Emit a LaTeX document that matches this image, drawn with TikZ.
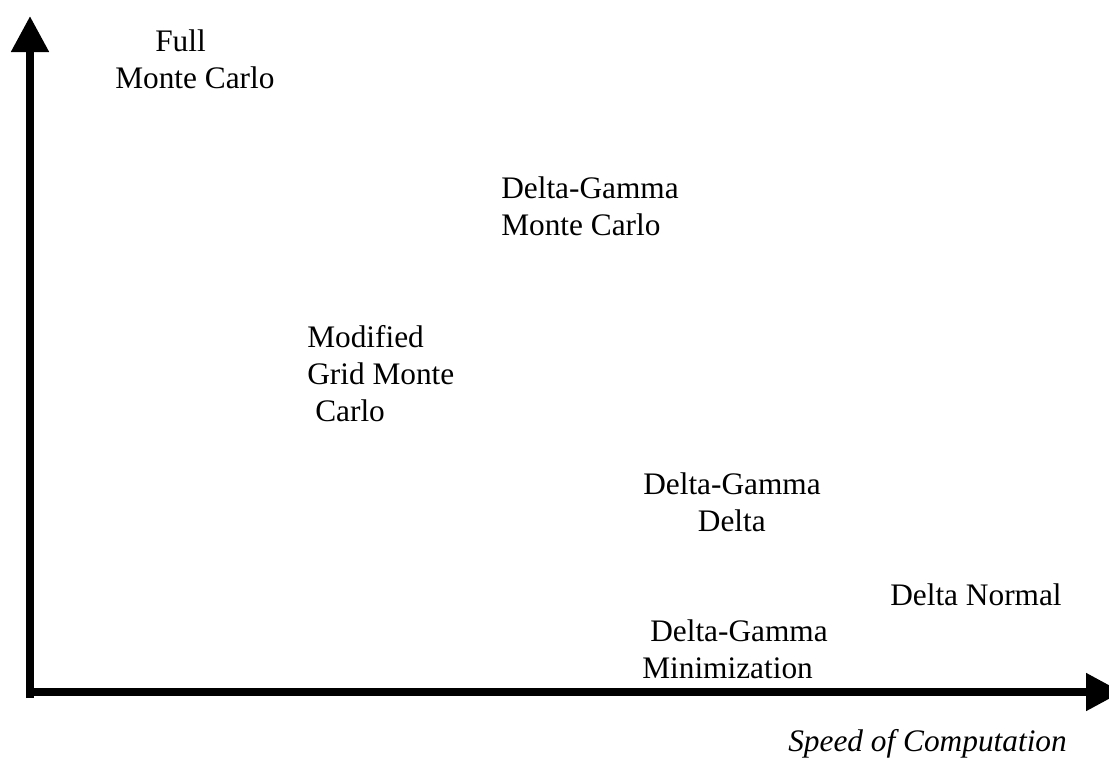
\documentclass[tikz,border=0pt]{standalone}
\usepackage{fontspec}
\setmainfont{Liberation Serif}
\usetikzlibrary{positioning,arrows.meta}

\begin{document}
\begin{tikzpicture}[x=0.75pt,y=-0.75pt,
    lbl/.style={font=\fontsize{23.5}{27.75}\selectfont, align=left, inner sep=0pt, anchor=base west},
    axis/.style={line width=6pt, -{Triangle[length=27pt,width=27pt]}}]
    \useasboundingbox (0,0) rectangle (1109,757);
    % Axes
    \coordinate (ybot) at (30,698);
    \coordinate (ytop) at (30,16);
    \coordinate (xleft) at (26,692);
    \coordinate (xright) at (1122,692);
    \draw[axis] (ybot) -- (ytop);
    \draw[axis] (xleft) -- (xright);

    % Methods (anchored on the last line)
    \node[lbl] (fullmc) at (115,88) {\hspace*{30pt}Full\\Monte Carlo};
    \node[lbl] (dgmc) at (501,235) {Delta-Gamma\\Monte Carlo};
    \node[lbl] (gridmc) at (307,421) {Modified\\Grid Monte\\\hspace*{6pt}Carlo};
    \node[lbl] (dgd) at (643,531) {Delta-Gamma\\\hspace*{41pt}Delta};
    \node[lbl] (dnorm) at (890,605) {Delta Normal};
    \node[lbl] (dgmin) at (642,678) {\hspace*{6pt}Delta-Gamma\\Minimization};

    % Axis label
    \node[lbl, font=\fontsize{23.5}{27.75}\selectfont\itshape] (speed) at (788,751) {Speed of Computation};
\end{tikzpicture}
\end{document}
